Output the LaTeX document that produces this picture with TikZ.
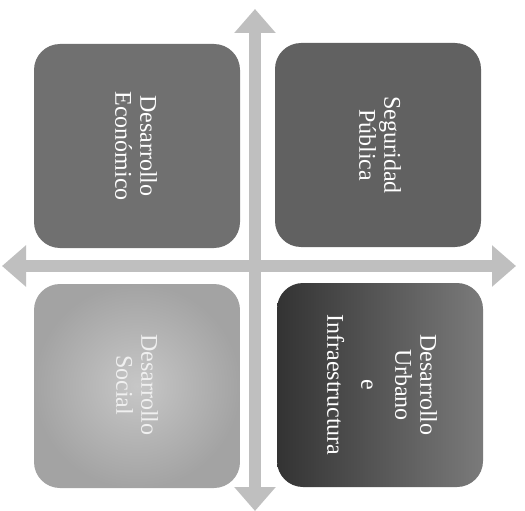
\documentclass[tikz,border=0pt]{standalone}
\usepackage{fontspec}
\setmainfont{Liberation Serif}
\usetikzlibrary{arrows.meta}
\begin{document}
\begin{tikzpicture}[x=1pt,y=-1pt,
  quad/.style={rounded corners=26pt, minimum width=206pt, minimum height=204pt, inner sep=0pt},
  lbl/.style={rotate=-90, text=white, font=\fontsize{24}{25}\selectfont, align=center, inner sep=0pt},
  axis/.style={line width=12pt, draw=black!25, {Triangle[width=40pt,length=24pt]}-{Triangle[width=40pt,length=24pt]}}]
\useasboundingbox (0,0) rectangle (525,511);
\fill[white] (0,0) rectangle (525,511);
% axes
\coordinate (vt) at (255,9);
\coordinate (vb) at (255,511);
\coordinate (hl) at (2,266);
\coordinate (hr) at (516,266);
\draw[axis] (vt) -- (vb);
\draw[axis] (hl) -- (hr);
% quadrants
\node[quad, fill=black!56] (tl) at (137,146) {};
\node[quad, fill=black!62] (tr) at (378,145) {};
\node[quad, inner color=black!22, outer color=black!36] (bl) at (137,386) {};
\node[quad, left color=black!80, right color=black!52] (br) at (380,385) {};
% labels
\node[lbl] (tltext) at (136,146) {Desarrollo\\Económico};
\node[lbl] (trtext) at (380,145) {Seguridad\\Pública};
\node[lbl, text=black!6] (bltext) at (137,385) {Desarrollo\\Social};
\node[lbl] (brtext) at (382,385) {Desarrollo\\Urbano\\[9pt]e\\[9pt]Infraestructura};
\end{tikzpicture}
\end{document}
